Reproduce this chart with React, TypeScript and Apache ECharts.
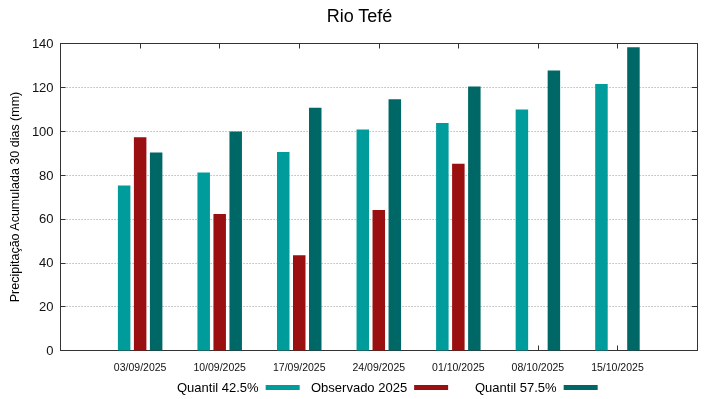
import React, { useEffect, useRef } from "react";
import * as echarts from "echarts";

const dates = ["03/09/2025", "10/09/2025", "17/09/2025", "24/09/2025", "01/10/2025", "08/10/2025", "15/10/2025"];
const quantil425 = [75.3, 81.2, 90.5, 100.8, 103.7, 109.9, 121.5];
const observado2025: (number | null)[] = [97.2, 62.3, 43.4, 64.1, 85.2, null, null];
const quantil575 = [90.3, 99.9, 110.7, 114.6, 120.4, 127.7, 138.3];
const seriesNames = ["Quantil 42.5%", "Observado 2025", "Quantil 57.5%"];

const FONT = "Liberation Sans, Arial, sans-serif";

export default function App() {
  const ref = useRef<HTMLDivElement>(null);
  useEffect(() => {
    if (!ref.current) return;
    const chart = echarts.init(ref.current, null, { renderer: "svg" });
    const cats = ["", ...dates, ""];
    const pad = (a: (number | null)[]) => [null, ...a, null];
    const barCommon = { type: "bar", barWidth: 12.5, barGap: "28%" };
    const legendLefts = [177, 311, 475];
    const legendCommon = {
      top: 381,
      align: "right",
      itemWidth: 34,
      itemHeight: 5,
      icon: "rect",
      padding: 0,
      textStyle: { fontFamily: FONT, fontSize: 13, color: "#000", padding: [0, 2, 0, 0] },
    };
    chart.setOption({
      animation: false,
      textStyle: { fontFamily: FONT },
      title: {
        text: "Rio Tefé",
        left: "center",
        top: 2,
        textStyle: { fontFamily: FONT, fontSize: 18, fontWeight: "normal", color: "#000" },
      },
      legend: seriesNames.map((n, i) => ({ ...legendCommon, left: legendLefts[i], data: [n] })),
      grid: { left: 59, right: 22, top: 43.5, bottom: 48.5, show: false },
      xAxis: [
        {
          type: "category",
          data: cats,
          boundaryGap: false,
          position: "bottom",
          axisLine: { onZero: false, lineStyle: { color: "#333", width: 1 } },
          axisTick: { inside: true, length: 5, lineStyle: { color: "#333" } },
          axisLabel: { fontFamily: FONT, fontSize: 10.5, color: "#111", margin: 11, interval: 0 },
          splitLine: { show: false },
        },
        {
          type: "category",
          data: cats,
          boundaryGap: false,
          position: "top",
          axisLine: { onZero: false, lineStyle: { color: "#333", width: 1 } },
          axisTick: { inside: true, length: 5, lineStyle: { color: "#333" } },
          axisLabel: { show: false },
        },
      ],
      yAxis: [
        {
          type: "value",
          min: 0,
          max: 140,
          interval: 20,
          position: "left",
          name: "Precipitação Acumulada 30 dias (mm)",
          nameLocation: "middle",
          nameGap: 38,
          nameTextStyle: { fontFamily: FONT, fontSize: 12.5, color: "#000" },
          axisLine: { show: true, onZero: false, lineStyle: { color: "#333" } },
          axisTick: { show: true, inside: true, length: 5, lineStyle: { color: "#333" } },
          axisLabel: { fontFamily: FONT, fontSize: 13, color: "#111", margin: 7 },
          splitLine: { show: true, lineStyle: { color: "#999", type: [1, 2], width: 1 } },
        },
        {
          type: "value",
          min: 0,
          max: 140,
          interval: 20,
          position: "right",
          axisLine: { show: true, onZero: false, lineStyle: { color: "#333" } },
          axisTick: { show: true, inside: true, length: 5, lineStyle: { color: "#333" } },
          axisLabel: { show: false },
          splitLine: { show: false },
        },
      ],
      series: [
        { ...barCommon, name: seriesNames[0], data: pad(quantil425), itemStyle: { color: "#009b9b" } },
        { ...barCommon, name: seriesNames[1], data: pad(observado2025), itemStyle: { color: "#9a0f0f" } },
        { ...barCommon, name: seriesNames[2], data: pad(quantil575), itemStyle: { color: "#006767" } },
      ],
    });
    return () => chart.dispose();
  }, []);
  return <div ref={ref} style={{ width: 719, height: 399, position: "fixed", left: 0, top: 0 }} />;
}
